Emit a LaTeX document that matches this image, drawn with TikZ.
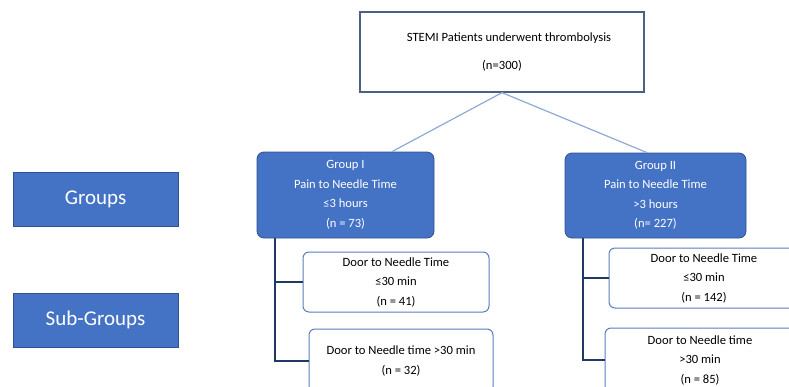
\documentclass[tikz,border=0pt]{standalone}
\usepackage{fontspec}
\setmainfont{Carlito}
\usepackage{xcolor}
\definecolor{grpblue}{HTML}{4472C4}
\definecolor{grpedge}{HTML}{2F528F}
\definecolor{linkblue}{HTML}{8FA9D6}
\definecolor{treenavy}{HTML}{1F3864}
\definecolor{subedge}{HTML}{5B7DC0}

\begin{document}
\begin{tikzpicture}[x=1pt,y=-1pt,
    txt/.style={font=\fontsize{12.6}{19.5}\selectfont, align=center, inner sep=0pt},
    topbox/.style={txt, draw=treenavy!80, line width=1.3pt, fill=white},
    grp/.style={txt, draw=grpedge, line width=0.8pt, fill=grpblue, text=white, rounded corners=7pt},
    sub/.style={txt, draw=subedge, line width=1pt, fill=white, rounded corners=6pt},
    lab/.style={draw=grpedge, line width=0.8pt, fill=grpblue, text=white, font=\fontsize{21}{24}\selectfont,
      minimum width=165pt, minimum height=54pt},
    tree/.style={draw=treenavy, line width=1.6pt},
    link/.style={draw=linkblue, line width=1.2pt}]
      \useasboundingbox (0,0) rectangle (789,386);
      \clip (0,0) rectangle (789,386);
      \node [topbox, minimum width=284pt, minimum height=80pt] (T) at (502,52)
        {\hspace*{14pt}STEMI Patients underwent thrombolysis\\[9pt](n=300)};
      \node [grp, minimum width=177pt, minimum height=86pt] (G1) at (345.5,195)
        {Group I\\Pain to Needle Time\\≤3 hours\\(n = 73)};
      \node [grp, minimum width=181pt, minimum height=85pt] (G2) at (655.5,195.5)
        {Group II\\Pain to Needle Time\\>3 hours\\(n= 227)};
      \node [lab] (L1) at (95.5,199.5) {Groups};
      \node [lab] (L2) at (95.5,320) {Sub-Groups};
      \node [sub, minimum width=186pt, minimum height=60pt] (S1a) at (396,282)
        {Door to Needle Time\\≤30 min\\(n = 41)};
      \node [sub, minimum width=184pt, minimum height=64pt] (S1b) at (401,361)
        {Door to Needle time >30 min\\(n = 32)};
      \node [sub, minimum width=190pt, minimum height=60pt] (S2a) at (704,278)
        {Door to Needle Time\\≤30 min\\(n = 142)};
      \node [sub, minimum width=190pt, minimum height=64pt] (S2b) at (700,360)
        {Door to Needle time\\>30 min\\(n = 85)};
      % links from the top box
      \draw [link] (T.south) to ([xshift=46.5pt]G1.north);
      \draw [link] (T.south) to ([xshift=-8.5pt]G2.north);
      % sub-group trees
      \coordinate (t1) at (275,238);
      \coordinate (t2) at (583,238);
      \draw [tree] (t1) |- (S1a.west);
      \draw [tree] (t1) |- (S1b.west);
      \draw [tree] (t2) |- (S2a.west);
      \draw [tree] (t2) |- (S2b.west);
\end{tikzpicture}
\end{document}
